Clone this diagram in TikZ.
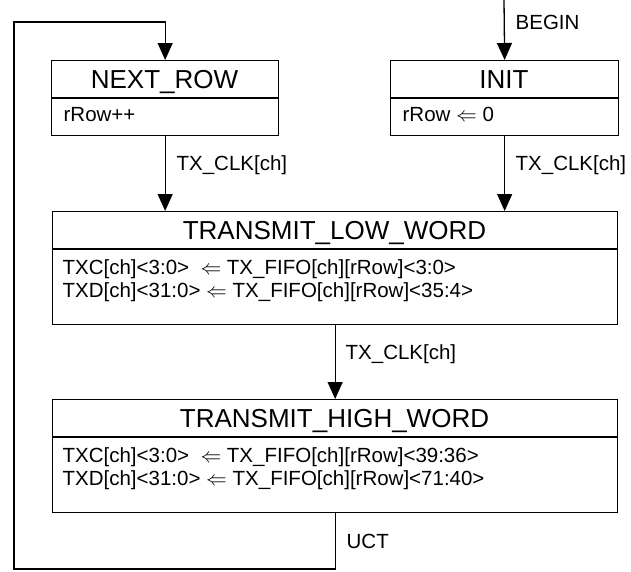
\documentclass[tikz,border=0pt]{standalone}
\usepackage{fontspec}
\setmainfont{Liberation Sans}
\usetikzlibrary{arrows.meta}
\begin{document}
\begin{tikzpicture}[x=1pt,y=-1pt,
  line width=1.3pt,
  statebox/.style={draw, rectangle, inner sep=0pt, anchor=north west},
  statetitle/.style={font=\fontsize{26}{30}\selectfont, inner sep=0pt, anchor=base},
  action/.style={font=\fontsize{20.5}{23}\selectfont, inner sep=0pt, anchor=base west},
  guard/.style={font=\fontsize{20.5}{23}\selectfont, inner sep=0pt, anchor=base west},
  flow/.style={-{Triangle[width=15pt,length=17pt]}},
]
\useasboundingbox (0,0) rectangle (631,571);

% state boxes
\node[statebox, minimum width=227pt, minimum height=75pt] (next) at (51,60) {};
\node[statebox, minimum width=228pt, minimum height=75pt] (init) at (390,60) {};
\node[statebox, minimum width=565pt, minimum height=113pt] (low) at (52,211) {};
\node[statebox, minimum width=565pt, minimum height=113pt] (high) at (52,399) {};

% title separators
\draw ([yshift=-38pt]next.north west) -- ([yshift=-38pt]next.north east);
\draw ([yshift=-38pt]init.north west) -- ([yshift=-38pt]init.north east);
\draw ([yshift=-38pt]low.north west) -- ([yshift=-38pt]low.north east);
\draw ([yshift=-38pt]high.north west) -- ([yshift=-38pt]high.north east);

% state names
\node[statetitle] (nextT) at (164.5,88) {NEXT\_ROW};
\node[statetitle] (initT) at (504,88) {INIT};
\node[statetitle] (lowT) at (334.5,239) {TRANSMIT\_LOW\_WORD};
\node[statetitle] (highT) at (334.5,427) {TRANSMIT\_HIGH\_WORD};

% state actions
\node[action] (nextA) at (63,121) {rRow++};
\node[action] (initA) at (402,121) {rRow $\Leftarrow$ 0};
\node[action] (lowA1) at (62,274) {TXC[ch]<3:0>\ \ $\Leftarrow$ TX\_FIFO[ch][rRow]<3:0>};
\node[action] (lowA2) at (62,297) {TXD[ch]<31:0> $\Leftarrow$ TX\_FIFO[ch][rRow]<35:4>};
\node[action] (highA1) at (62,462) {TXC[ch]<3:0>\ \ $\Leftarrow$ TX\_FIFO[ch][rRow]<39:36>};
\node[action] (highA2) at (62,485) {TXD[ch]<31:0> $\Leftarrow$ TX\_FIFO[ch][rRow]<71:40>};

% transitions
\coordinate (start) at (504,0);
\coordinate (loopbl) at (14,569);
\coordinate (looptl) at (14,22);

\draw[flow] (start) -- (init.north);
\draw[flow] (next.south) -- (next.south |- low.north);
\draw[flow] (init.south) -- (init.south |- low.north);
\draw[flow] (low.south) -- (high.north);
\draw[flow] (high.south) |- (loopbl) -- (looptl) -| (next.north);

% transition labels
\node[guard] (gBegin) at (515,29.5) {BEGIN};
\node[guard] (gNext) at (176,170) {TX\_CLK[ch]};
\node[guard] (gInit) at (515,170) {TX\_CLK[ch]};
\node[guard] (gLow) at (345,359.5) {TX\_CLK[ch]};
\node[guard] (gHigh) at (346,548) {UCT};
\end{tikzpicture}
\end{document}
